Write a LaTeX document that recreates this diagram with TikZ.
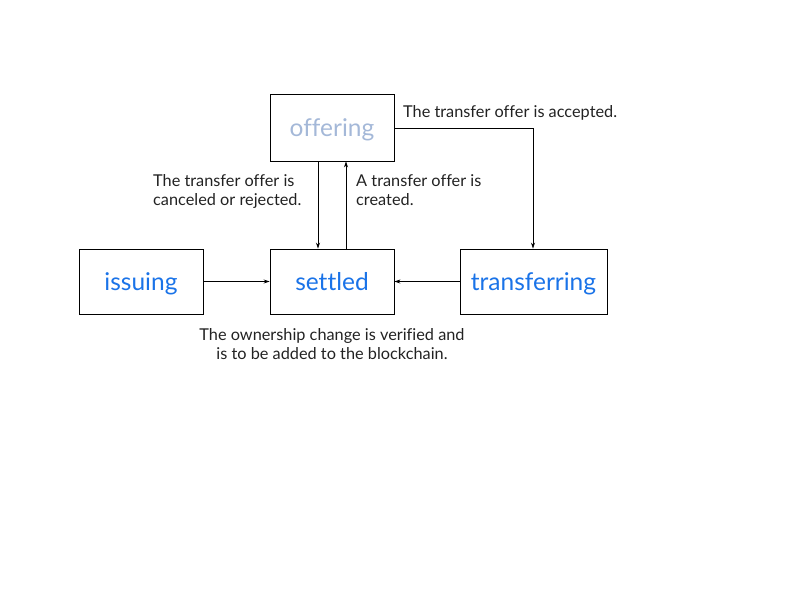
\documentclass[tikz,border=0pt]{standalone}
\usepackage{fontspec}
\setmainfont{Lato}[Ligatures=CommonOff]
\usetikzlibrary{arrows.meta}
\definecolor{stblue}{HTML}{1A73E8}
\definecolor{stgrey}{HTML}{A4B8D8}
\definecolor{lbl}{HTML}{222222}
\tikzset{
  state/.style={draw=black, line width=0.9pt, minimum height=65pt, inner sep=0pt, text height=22.5pt, text depth=5.5pt, font=\fontsize{24.5}{28}\selectfont, text=stblue},
  conn/.style={line width=0.8pt, -{Stealth[length=6pt,width=4pt]}},
  lab/.style={font=\fontsize{16.3}{19.5}\selectfont, text=lbl, inner sep=0pt, align=left}
}
\begin{document}
\begin{tikzpicture}[x=1pt,y=-1pt]
\useasboundingbox (0,0) rectangle (800,600);
\node[state, minimum width=124pt, minimum height=67pt, text=stgrey] (off) at (332,127.5) {offering};
\node[state, minimum width=124pt] (iss) at (141,281.5) {issuing};
\node[state, minimum width=124pt] (set) at (332,281.5) {settled};
\node[state, minimum width=147pt] (tra) at (533.5,281.5) {transferring};
\coordinate (corner) at (533,128);
\draw[conn] (off.south -| 318,0) -- (set.north -| 318,0);
\draw[conn] (set.north -| 346,0) -- (off.south -| 346,0);
\draw[conn] (off.east |- corner) -- (corner) -- (tra.north -| corner);
\draw[conn] (iss.east) -- (set.west);
\draw[conn] (tra.west) -- (set.east);
\node[lab, anchor=west] (l1) at (403,113) {The transfer offer is accepted.};
\node[lab, anchor=north west] (l2) at (153,174) {The transfer offer is\\canceled or rejected.};
\node[lab, anchor=north west] (l3) at (356,174) {A transfer offer is\\created.};
\node[lab, align=center, anchor=north] (l4) at (332,328) {The ownership change is verified and\\is to be added to the blockchain.};
\end{tikzpicture}
\end{document}
